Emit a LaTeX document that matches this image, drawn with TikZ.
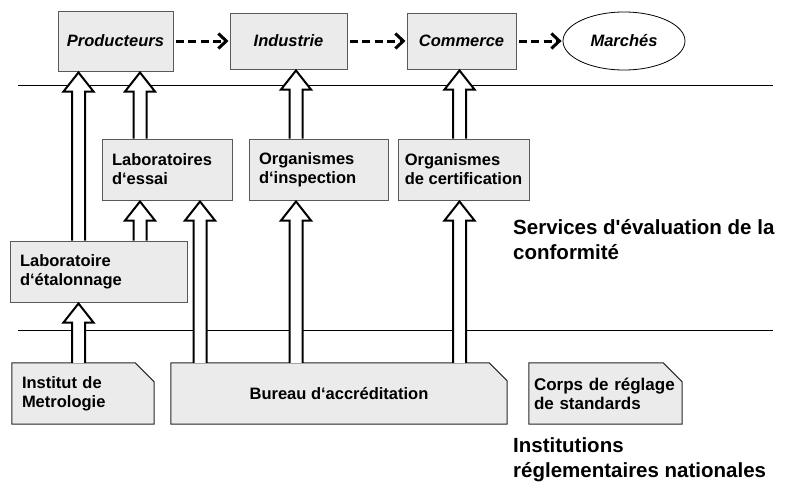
\documentclass[tikz,border=0pt]{standalone}
\usepackage{fontspec}
\setmainfont{Liberation Sans}
\usetikzlibrary{shapes.geometric,arrows.meta,calc,backgrounds}
\definecolor{boxfill}{rgb}{0.92,0.92,0.92}
\definecolor{boxline}{rgb}{0.35,0.35,0.35}

\begin{document}
\begin{tikzpicture}[x=1pt,y=-1pt,
  topbox/.style={rectangle,draw=boxline,fill=boxfill,line width=1pt,minimum height=56pt,font=\fontsize{16.5}{19}\selectfont\bfseries\itshape},
  midbox/.style={rectangle,draw=boxline,fill=boxfill,line width=1pt,minimum height=61pt,inner xsep=10pt,align=left,font=\fontsize{16.5}{19}\selectfont\bfseries},
  basebox/.style={rectangle,minimum height=61pt,inner xsep=10pt,align=left,font=\fontsize{16.5}{19}\selectfont\bfseries},
  cornerline/.style={draw=black!85,fill=boxfill,line width=1pt},
  flow/.style={line width=3pt,dash pattern=on 8pt off 4.5pt,-{Straight Barb[length=8pt,width=15pt]},shorten <=2pt,shorten >=1pt},
  hollow/.style={draw=black,fill=white,line width=2pt,to path={let \p1=(\tikztostart),\p2=(\tikztotarget) in
    (\x1-6.5pt,\y1) -- (\x1-6.5pt,\y2-20pt) -- (\x1-15pt,\y2-20pt) -- (\x1,\y2-1pt)
    -- (\x1+15pt,\y2-20pt) -- (\x1+6.5pt,\y2-20pt) -- (\x1+6.5pt,\y1)}},
  sidetext/.style={anchor=west,align=left,inner sep=0pt,font=\fontsize{20.5}{25}\selectfont\bfseries}]
\useasboundingbox (0,0) rectangle (793,490);

\draw [line width=1pt] (18,85) -- (773,85);
\draw [line width=1pt] (18,330) -- (773,330);

\node [topbox,minimum width=115pt,minimum height=60pt] (prod) at (115.5,41) {Producteurs};
\node [topbox,minimum width=117pt] (ind) at (288.5,41) {Industrie};
\node [topbox,minimum width=109pt] (comm) at (461.5,41) {Commerce};
\node [ellipse,draw=black,line width=0.8pt,minimum width=122pt,minimum height=58pt,font=\fontsize{16.5}{19}\selectfont\bfseries\itshape] (mark) at (624,41) {Marchés};

\node [midbox,text width=110pt] (essai) at (167,169.5) {Laboratoires\\d‘essai};
\node [midbox,text width=119pt] (insp) at (318.5,169.5) {Organismes\\d‘inspection};
\node [midbox,minimum width=131pt,inner xsep=4pt] (cert) at (463.5,169.5) {Organismes\\de certification};
\node [midbox,text width=157pt] (etal) at (98.5,271.5) {Laboratoire\\d‘étalonnage};

\node [basebox,text width=122pt] (inst) at (83,393.5) {Institut de\\Metrologie};
\node [basebox,minimum width=336pt,align=center] (bur) at (339,393.5) {Bureau d‘accréditation};
\node [basebox,text width=143pt,inner xsep=5pt,font=\fontsize{17}{19}\selectfont\bfseries] (corps) at (605.5,393.5) {Corps de réglage\\de standards};

\begin{scope}[on background layer]
\draw [cornerline] (inst.south west) -- (inst.north west) -- ([xshift=-19pt]inst.north east) -- ([yshift=-19pt]inst.north east) -- (inst.south east) -- cycle;
\draw [cornerline] (bur.south west) -- (bur.north west) -- ([xshift=-18pt]bur.north east) -- ([yshift=-18pt]bur.north east) -- (bur.south east) -- cycle;
\draw [cornerline] (corps.south west) -- (corps.north west) -- ([xshift=-19pt]corps.north east) -- ([yshift=-19pt]corps.north east) -- (corps.south east) -- cycle;
\end{scope}

\node [sidetext] (serv) at (513,239.5) {Services d\textquotesingle évaluation de la\\conformité};
\node [sidetext] (natl) at (513,460) {Institutions\\réglementaires nationales};

\draw [flow] (prod) -- (ind);
\draw [flow] (ind) -- (comm);
\draw [flow] (comm) -- (mark);

\coordinate (c1) at (78.5,0);
\coordinate (c2) at (140,0);
\coordinate (c3) at (200,0);
\coordinate (c4) at (296,0);
\coordinate (c5) at (459.5,0);

\draw [hollow] (etal.north -| c1) to (prod.south -| c1);
\draw [hollow] (essai.north -| c2) to (prod.south -| c2);
\draw [hollow] (insp.north -| c4) to (ind.south -| c4);
\draw [hollow] (cert.north -| c5) to (comm.south -| c5);
\draw [hollow] (etal.north -| c2) to (essai.south -| c2);
\draw [hollow] (bur.north -| c3) to (essai.south -| c3);
\draw [hollow] (bur.north -| c4) to (insp.south -| c4);
\draw [hollow] (bur.north -| c5) to (cert.south -| c5);
\draw [hollow] (inst.north -| c1) to (etal.south -| c1);
\end{tikzpicture}
\end{document}
